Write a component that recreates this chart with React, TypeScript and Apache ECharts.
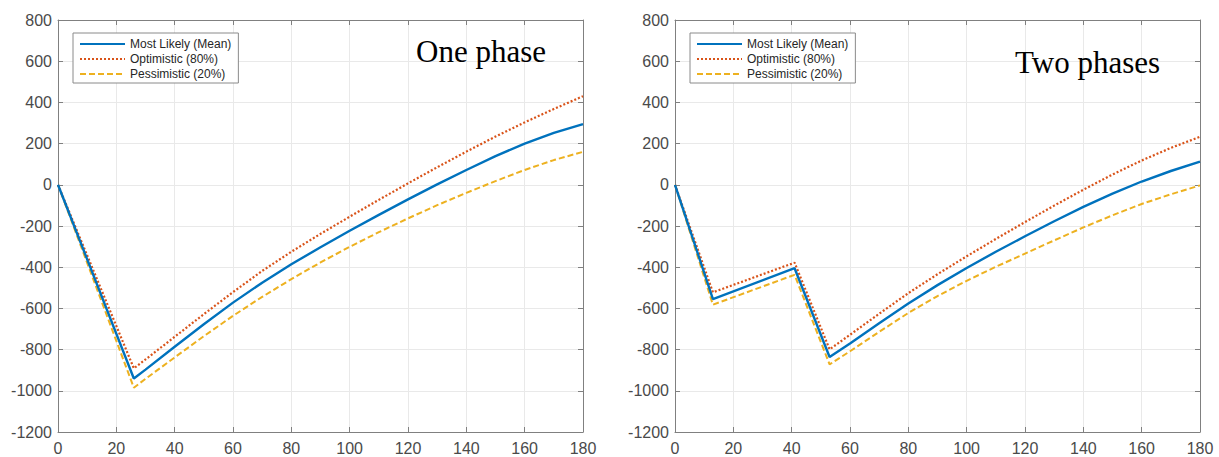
import React, { useEffect, useRef } from "react";
import * as echarts from "echarts";

const SERIES_NAMES = ["Most Likely (Mean)", "Optimistic (80%)", "Pessimistic (20%)"];
const PANEL_TITLES = ["One phase", "Two phases"];

const X_MIN = 0, X_MAX = 180, X_STEP = 20;
const Y_MIN = -1200, Y_MAX = 800, Y_STEP = 200;

// One phase
const leftX = [0, 26, 30, 40, 50, 60, 70, 80, 90, 100, 110, 120, 130, 140, 150, 160, 170, 180];
const leftMean = [0, -940, -897, -786, -677, -572, -475, -386, -303, -223, -146, -71, 2, 72, 139, 200, 252, 295];
const leftOpt = [0, -891, -848, -738, -628, -521, -418, -325, -238, -155, -73, 7, 85, 161, 234, 303, 368, 430];
const leftPess = [0, -985, -942, -838, -735, -636, -544, -458, -377, -301, -230, -163, -99, -39, 18, 72, 120, 160];

// Two phases
const rightX = [0, 13, 41, 53, 60, 70, 80, 90, 100, 110, 120, 130, 140, 150, 160, 170, 180];
const rightMean = [0, -555, -405, -836, -770, -672, -576, -487, -404, -325, -250, -177, -107, -43, 16, 67, 112];
const rightOpt = [0, -522, -378, -799, -728, -626, -526, -434, -347, -263, -181, -101, -24, 50, 118, 179, 233];
const rightPess = [0, -582, -437, -872, -808, -714, -622, -540, -466, -398, -334, -270, -207, -148, -93, -46, -3];

const COLORS = ["#0072BD", "#D95319", "#EDB120"];
const LINE_TYPES: any[] = ["solid", [2, 2], [6, 3]];
const LINE_WIDTHS = [2.4, 2.2, 2];

const AXIS_COLOR = "#808080";
const LABEL_COLOR = "#4a4a4a";
const GRID_COLOR = "#e9e9e9";
const SANS = "Liberation Sans";

function pairs(xs: number[], ys: number[]) {
  return xs.map((x, i) => [x, ys[i]]);
}

export default function App() {
  const ref = useRef<HTMLDivElement>(null);
  useEffect(() => {
    if (!ref.current) return;
    const chart = echarts.init(ref.current, null, { renderer: "svg" });

    const grids = [
      { left: 58, top: 20, width: 525, height: 412 },
      { left: 675, top: 20, width: 525, height: 412 },
    ];

    const xAxes: any[] = [];
    const yAxes: any[] = [];
    grids.forEach((_, gi) => {
      const base = {
        type: "value",
        gridIndex: gi,
        min: X_MIN,
        max: X_MAX,
        interval: X_STEP,
        axisLine: { show: true, onZero: false, lineStyle: { color: AXIS_COLOR, width: 1 } },
        axisTick: { show: true, inside: true, length: 5, lineStyle: { color: AXIS_COLOR } },
      };
      xAxes.push({
        ...base,
        position: "bottom",
        axisLabel: { show: true, color: LABEL_COLOR, fontSize: 16, fontFamily: SANS, margin: 8 },
        splitLine: { show: true, lineStyle: { color: GRID_COLOR, width: 1 } },
      });
      xAxes.push({
        ...base,
        position: "top",
        axisLabel: { show: false },
        splitLine: { show: false },
      });
      const ybase = {
        type: "value",
        gridIndex: gi,
        min: Y_MIN,
        max: Y_MAX,
        interval: Y_STEP,
        axisLine: { show: true, onZero: false, lineStyle: { color: AXIS_COLOR, width: 1 } },
        axisTick: { show: true, inside: true, length: 5, lineStyle: { color: AXIS_COLOR } },
      };
      yAxes.push({
        ...ybase,
        position: "left",
        axisLabel: {
          show: true,
          color: LABEL_COLOR,
          fontSize: 16,
          fontFamily: SANS,
          margin: 6,
          formatter: (v: number) => String(v),
        },
        splitLine: { show: true, lineStyle: { color: GRID_COLOR, width: 1 } },
      });
      yAxes.push({
        ...ybase,
        position: "right",
        axisLabel: { show: false },
        splitLine: { show: false },
      });
    });

    const panels = [
      { xs: leftX, ys: [leftMean, leftOpt, leftPess] },
      { xs: rightX, ys: [rightMean, rightOpt, rightPess] },
    ];

    const series: any[] = [];
    panels.forEach((p, gi) => {
      p.ys.forEach((ys, si) => {
        series.push({
          type: "line",
          name: SERIES_NAMES[si],
          xAxisIndex: gi * 2,
          yAxisIndex: gi * 2,
          data: pairs(p.xs, ys),
          symbol: "none",
          showSymbol: false,
          z: 10 - si,
          lineStyle: { color: COLORS[si], width: LINE_WIDTHS[si], type: LINE_TYPES[si] },
          itemStyle: { color: COLORS[si] },
        });
      });
    });

    const legendBase = {
      orient: "vertical",
      top: 33,
      itemWidth: 45,
      itemHeight: 14,
      itemGap: 3,
      padding: [5, 7, 3, 6],
      backgroundColor: "#ffffff",
      borderColor: "#8a8a8a",
      borderWidth: 1,
      borderRadius: 0,
      selectedMode: false,
      data: SERIES_NAMES,
      itemStyle: { opacity: 0 },
      textStyle: { color: "#262626", fontSize: 12, fontFamily: SANS },
    };

    chart.setOption({
      animation: false,
      backgroundColor: "#ffffff",
      grid: grids.map((g) => ({ ...g, containLabel: false })),
      xAxis: xAxes,
      yAxis: yAxes,
      legend: [
        { ...legendBase, left: 73 },
        { ...legendBase, left: 690 },
      ],
      graphic: [
        {
          type: "text",
          left: 416,
          top: 36,
          z: 100,
          style: { text: PANEL_TITLES[0], font: "31px 'Liberation Serif'", fill: "#000000" },
        },
        {
          type: "text",
          left: 1015,
          top: 47,
          z: 100,
          style: { text: PANEL_TITLES[1], font: "31px 'Liberation Serif'", fill: "#000000" },
        },
      ],
      series,
    });

    return () => chart.dispose();
  }, []);

  return (
    <div
      ref={ref}
      style={{ position: "fixed", left: 0, top: 0, width: 1219, height: 457, background: "#fff" }}
    />
  );
}
